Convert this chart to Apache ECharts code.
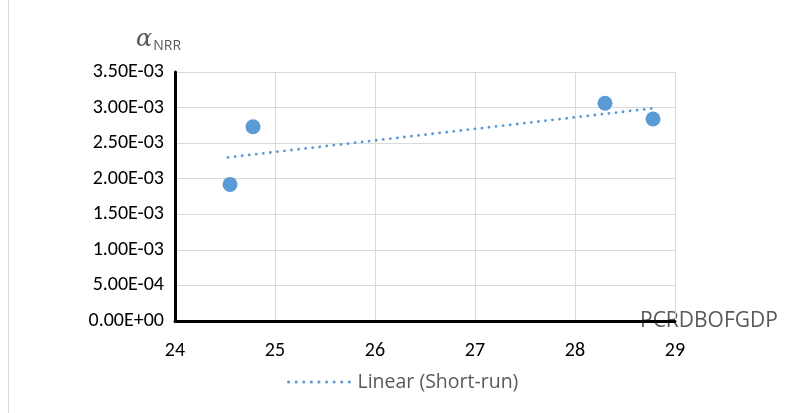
<!DOCTYPE html>
<html><head><meta charset="utf-8">
<script src="https://cdn.jsdelivr.net/npm/echarts@6/dist/echarts.min.js"></script>
<style>html,body{margin:0;padding:0;background:#fff}#c{width:785px;height:413px}</style>
</head><body><div id="c"></div>
<script>
const pointsX = [24.55, 24.78, 28.30, 28.78];
const pointsY = [1.92e-3, 2.73e-3, 3.06e-3, 2.84e-3];
const trendX = [24.53, 28.78];
const trendY = [2.30e-3, 2.99e-3];
const trendName = 'Linear (Short-run)';
const xTitle = 'PCRDBOFGDP';

function fmtY(v){
  if (Math.abs(v) < 1e-12) return '0.00E+00';
  const e = Math.floor(Math.log10(Math.abs(v)) + 1e-9);
  const m = v / Math.pow(10, e);
  const sign = e < 0 ? '-' : '+';
  const ae = Math.abs(e);
  return m.toFixed(2) + 'E' + sign + (ae < 10 ? '0' + ae : ae);
}
const FONT = 'Carlito, "Liberation Sans", sans-serif';
const GFONT = '"Open Sans", sans-serif';
const chart = echarts.init(document.getElementById('c'), null, {renderer:'canvas'});
chart.setOption({
  animation:false,
  grid:{left:175, right:110, top:72, bottom:92},
  xAxis:{type:'value', min:24, max:29, interval:1,
    axisLine:{show:true, onZero:false, lineStyle:{color:'#000', width:3}},
    axisTick:{show:false},
    axisLabel:{color:'#000', fontSize:20, fontFamily:FONT, margin:20},
    splitLine:{show:true, lineStyle:{color:'#d9d9d9', width:1}}},
  yAxis:{type:'value', min:0, max:3.5e-3, interval:0.5e-3,
    axisLine:{show:true, onZero:false, lineStyle:{color:'#000', width:3}},
    axisTick:{show:false},
    axisLabel:{color:'#000', fontSize:20, fontFamily:FONT, margin:11, formatter:fmtY},
    splitLine:{show:true, lineStyle:{color:'#d9d9d9', width:1}}},
  legend:{show:true, top:367, left:282, data:[trendName], itemWidth:64, itemHeight:14, itemGap:10,
    itemStyle:{opacity:0},
    lineStyle:{width:3, type:[0.1,7.5], cap:'round', color:'#5b9bd5'},
    textStyle:{color:'#595959', fontSize:19.5, fontFamily:GFONT}},
  graphic:[
    {type:'line', shape:{x1:8.5,y1:0,x2:8.5,y2:413}, style:{stroke:'#d9d9d9', lineWidth:1}},
    {type:'text', left:136, top:28, style:{
      text:'{a|α}{b|NRR}', fill:'#595959',
      rich:{a:{fontSize:24, fontStyle:'italic', fontFamily:'"DejaVu Serif", serif', fill:'#595959'},
            b:{fontSize:14, fontFamily:GFONT, fill:'#595959', padding:[12,0,0,1]}}}},
    {type:'text', left:640, top:311, style:{text:xTitle, fill:'#595959', fontSize:21, fontFamily:GFONT}}
  ],
  series:[
    {type:'scatter', name:'Short-run', data:pointsX.map((x,i)=>[x,pointsY[i]]),
     symbolSize:15, itemStyle:{color:'#5b9bd5', opacity:1}, z:3},
    {type:'line', name:trendName, data:trendX.map((x,i)=>[x,trendY[i]]),
     symbol:'none', itemStyle:{color:'#5b9bd5'},
     lineStyle:{color:'#5b9bd5', width:2.8, type:[0.1,7], cap:'round', opacity:1}, z:2}
  ]
});
</script></body></html>
